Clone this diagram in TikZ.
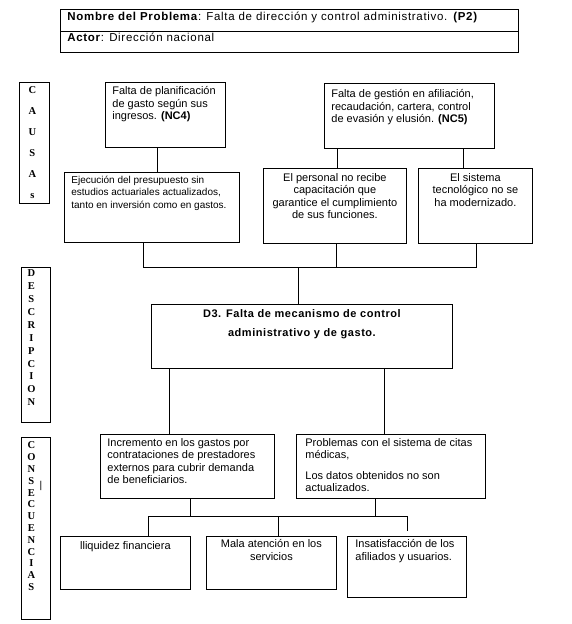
\documentclass[tikz,border=0pt]{standalone}
\usepackage{fontspec}
\setmainfont{Liberation Sans}
\newfontfamily\lettfont{Liberation Serif}
\newcommand{\cellbox}[3]{\parbox[t][#2][t]{#1}{#3}}

\begin{document}
\begin{tikzpicture}[x=1pt, y=-1pt,
    box/.style={rectangle, draw, line width=0.8pt, anchor=north west, inner xsep=7pt, inner ysep=4pt, font=\fontsize{11}{12.5}\selectfont},
    head/.style={box, font=\addfontfeature{LetterSpace=6}\fontsize{11.5}{13}\selectfont},
    side/.style={box, inner xsep=1.5pt, font=\lettfont\bfseries\fontsize{10.5}{#1}\selectfont},
    link/.style={line width=0.8pt}
]
\useasboundingbox (0,0) rectangle (571,624);

% cabecera
\node[head, inner ysep=3pt] (hdr1) at (60,9)
  {\cellbox{444pt}{16pt}{\textbf{Nombre del Problema}: Falta de dirección y control administrativo. \textbf{(P2)}}};
\node[head, inner ysep=1.5pt] (hdr2) at (60,31)
  {\cellbox{444pt}{18pt}{\textbf{Actor}: Dirección nacional}};

% columnas laterales
\node[side=21, inner ysep=4pt] (causas) at (19,82) {\cellbox{27pt}{113pt}{\centering\rightskip=4pt plus 1fil C\\A\\U\\S\\A\\s}};
\node[side=12.9, inner ysep=2.5pt] (descr) at (21,267) {\cellbox{26pt}{150pt}{\centering\rightskip=9pt plus 1fil D\\E\\S\\C\\R\\I\\P\\C\\I\\O\\N}};
\node[side=11.8, inner ysep=4.5pt] (consec) at (21,437) {\cellbox{26pt}{173pt}{\centering\rightskip=9pt plus 1fil C\\O\\N\\S\\E\\C\\U\\E\\N\\C\\I\\A\\S}};
\node[font=\fontsize{10}{12}\selectfont, inner sep=0pt] (bar) at (41,486) {|};

% causas
\node[box] (nc4) at (105,82) {\cellbox{106pt}{57pt}{\raggedright Falta de planificación\\de gasto según sus\\ingresos. \textbf{(NC4)}}};
\node[box, inner ysep=6pt] (nc5) at (324,83) {\cellbox{156pt}{53pt}{\raggedright Falta de gestión en afiliación,\\recaudación, cartera, control\\de evasión y elusión. \textbf{(NC5)}}};
\node[box, inner ysep=3.5pt, font=\fontsize{10}{12.5}\selectfont] (ejec) at (64,172) {\cellbox{161pt}{63pt}{\raggedright Ejecución del presupuesto sin\\estudios actuariales actualizados,\\tanto en inversión como en gastos.}};
\node[box, inner xsep=3pt, inner ysep=5pt] (pers) at (263,168) {\cellbox{137pt}{65pt}{\centering El personal no recibe\\capacitación que\\garantice el cumplimiento\\de sus funciones.}};
\node[box, inner xsep=3pt, inner ysep=5pt] (sist) at (418,168) {\cellbox{108pt}{65pt}{\centering El sistema\\tecnológico no se\\ha modernizado.}};

% descripcion
\node[box, inner xsep=5pt, inner ysep=5pt, font=\bfseries\addfontfeature{LetterSpace=5}\fontsize{11}{19}\selectfont] (d3) at (151,304)
  {\cellbox{291pt}{54pt}{\centering D3. Falta de mecanismo de control\\administrativo y de gasto.}};

% consecuencias
\node[box] (incr) at (100,434) {\cellbox{160pt}{56pt}{\raggedright Incremento en los gastos por\\contrataciones de prestadores\\externos para cubrir demanda\\de beneficiarios.}};
\node[box, inner xsep=9pt] (prob) at (296,434) {\cellbox{171pt}{56pt}{\raggedright Problemas con el sistema de citas\\médicas,\\[8pt]Los datos obtenidos no son\\actualizados.}};
\node[box, inner xsep=3pt, inner ysep=5pt] (liq) at (60,536) {\cellbox{124pt}{43pt}{\centering lliquidez financiera}};
\node[box, inner xsep=3pt, inner ysep=3pt] (mala) at (206,536) {\cellbox{124pt}{47pt}{\centering Mala atención en los\\servicios}};
\node[box, inner xsep=8pt, inner ysep=3pt] (insat) at (347,536) {\cellbox{103pt}{55pt}{\raggedright Insatisfacción de los\\afiliados y usuarios.}};

\coordinate (topbus) at (0,267);
\coordinate (lowbus) at (0,516);

\draw[link] ([xshift=-8pt]nc4.south) -- ([xshift=-8pt]nc4.south |- ejec.north);
\draw[link] ([xshift=-72pt]nc5.south) -- ([xshift=-72pt]nc5.south |- pers.north);
\draw[link] ([xshift=54pt]nc5.south) -- ([xshift=54pt]nc5.south |- sist.north);

\draw[link] ([xshift=-8.5pt]ejec.south) |- ([xshift=1pt]sist.south |- topbus) -- ([xshift=1pt]sist.south);
\draw[link] ([xshift=1.5pt]pers.south) -- ([xshift=1.5pt]pers.south |- topbus);
\draw[link] ([xshift=-3.5pt]d3.north |- topbus) -- ([xshift=-3.5pt]d3.north);

\draw[link] ([xshift=-132.5pt]d3.south) -- ([xshift=-132.5pt]d3.south |- incr.north);
\draw[link] ([xshift=82.5pt]d3.south) -- ([xshift=82.5pt]d3.south |- prob.north);

\draw[link] ([xshift=23pt]liq.north) |- ([xshift=0.5pt]insat.north |- lowbus) -- ([xshift=0.5pt,yshift=5pt]insat.north);
\draw[link] ([xshift=3pt]incr.south) -- ([xshift=3pt]incr.south |- lowbus);
\draw[link] ([xshift=-15.5pt]prob.south) -- ([xshift=-15.5pt]prob.south |- lowbus);
\draw[link] ([xshift=7pt]mala.north) -- ([xshift=7pt]mala.north |- lowbus);
\end{tikzpicture}
\end{document}
